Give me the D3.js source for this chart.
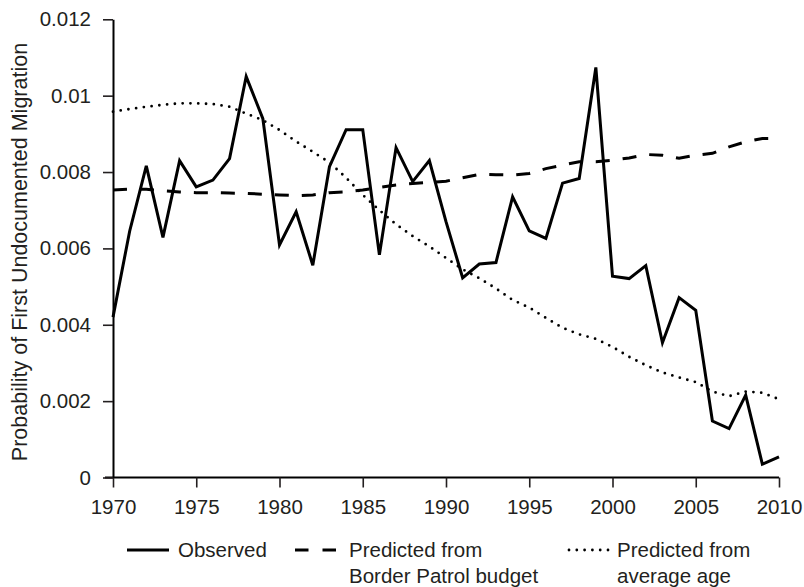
<!DOCTYPE html>
<html>
<head>
<meta charset="utf-8">
<script src="https://cdn.jsdelivr.net/npm/d3@7"></script>
<style>
  body { margin: 0; background: #fff; }
  text { font-family: "Liberation Sans", Arial, Helvetica, sans-serif; fill: #231f20; }
</style>
</head>
<body>
<div id="chart"></div>
<script>
const years = d3.range(1970, 2011);

const observed = [
    0.00420, 0.00645, 0.00816, 0.00629, 0.00830, 0.00761, 0.00779, 0.00835, 0.01050, 0.00940,
    0.00609, 0.00696, 0.00556, 0.00814, 0.00911, 0.00911, 0.00583, 0.00864, 0.00775, 0.00830,
    0.00670, 0.00523, 0.00559, 0.00563, 0.00735, 0.00646, 0.00626, 0.00771, 0.00783, 0.01074,
    0.00527, 0.00521, 0.00555, 0.00353, 0.00471, 0.00438, 0.00148, 0.00128, 0.00216, 0.00035,
    0.00054
];

const predictedBudget = [
    0.00753, 0.00755, 0.00755, 0.00751, 0.00748, 0.00746, 0.00746, 0.00745, 0.00744, 0.00742,
    0.00740, 0.00738, 0.00740, 0.00746, 0.00748, 0.00753, 0.00760, 0.00766, 0.00770, 0.00773,
    0.00776, 0.00785, 0.00794, 0.00793, 0.00792, 0.00796, 0.00809, 0.00818, 0.00827, 0.00827,
    0.00831, 0.00837, 0.00846, 0.00844, 0.00836, 0.00844, 0.00849, 0.00866, 0.00879, 0.00888,
    0.00888
];

const predictedAge = [
    0.00958, 0.00965, 0.00971, 0.00976, 0.00980, 0.00980, 0.00978, 0.00971, 0.00953, 0.00936,
    0.00910, 0.00880, 0.00853, 0.00825, 0.00785, 0.00740, 0.00700, 0.00663, 0.00632, 0.00605,
    0.00575, 0.00545, 0.00522, 0.00495, 0.00465, 0.00445, 0.00418, 0.00392, 0.00375, 0.00363,
    0.00342, 0.00316, 0.00294, 0.00275, 0.00262, 0.00250, 0.00225, 0.00213, 0.00225, 0.00222,
    0.00205
];

const xTicks = [1970, 1975, 1980, 1985, 1990, 1995, 2000, 2005, 2010];
const yTicks = [0, 0.002, 0.004, 0.006, 0.008, 0.01, 0.012];
const yTickLabels = ["0", "0.002", "0.004", "0.006", "0.008", "0.01", "0.012"];

const seriesNames = ["Observed", "Predicted from|Border Patrol budget", "Predicted from|average age"];

const width = 804;
const height = 587;
const margin = { top: 19.3, right: 25, bottom: 109.5, left: 113 };

const svg = d3.select("#chart")
    .append("svg")
    .attr("width", width)
    .attr("height", height);

const x = d3.scaleLinear()
    .domain([1970, 2010])
    .range([margin.left, width - margin.right]);

const y = d3.scaleLinear()
    .domain([0, 0.012])
    .range([height - margin.bottom, margin.top]);

// axes
const xAxis = svg.append("g")
    .attr("transform", `translate(0,${height - margin.bottom})`)
    .call(d3.axisBottom(x).tickValues(xTicks).tickFormat(d3.format("d")).tickSize(10).tickPadding(12).tickSizeOuter(0));

const yAxis = svg.append("g")
    .attr("transform", `translate(${margin.left},0)`)
    .call(d3.axisLeft(y).tickValues(yTicks).tickFormat((d, i) => yTickLabels[i]).tickSize(10).tickPadding(12).tickSizeOuter(0));

[xAxis, yAxis].forEach(ax => {
    ax.select(".domain").attr("stroke", "#000").attr("stroke-width", 2);
    ax.selectAll(".tick line").attr("stroke", "#231f20").attr("stroke-width", 1.6);
    ax.selectAll(".tick text").attr("font-size", 20.5).attr("fill", "#231f20")
        .style("font-family", "'Liberation Sans', Arial, sans-serif");
});
xAxis.select(".domain").attr("d", `M${x(1970) - 8},0H${x(2010)}`);

// y axis title
svg.append("text")
    .attr("transform", `translate(27,252) rotate(-90)`)
    .attr("text-anchor", "middle")
    .attr("font-size", 21.5)
    .text("Probability of First Undocumented Migration");

// lines
const line = values => d3.line()
    .x((d, i) => x(years[i]))
    .y(d => y(d))(values);

svg.append("path")
    .attr("d", line(predictedAge))
    .attr("fill", "none")
    .attr("stroke", "#000")
    .attr("stroke-width", 2.8)
    .attr("stroke-linecap", "round")
    .attr("stroke-dasharray", "0,7.8");

svg.append("path")
    .attr("d", line(predictedBudget))
    .attr("fill", "none")
    .attr("stroke", "#000")
    .attr("stroke-width", 3)
    .attr("stroke-dasharray", "14,13");

svg.append("path")
    .attr("d", line(observed))
    .attr("fill", "none")
    .attr("stroke", "#000")
    .attr("stroke-width", 3)
    .attr("stroke-linejoin", "miter");

// legend
const legendItems = [
    { name: seriesNames[0], x1: 127, x2: 169, tx: 178, dash: null, cap: "butt", sw: 3 },
    { name: seriesNames[1], x1: 295, x2: 337, tx: 349, dash: "13.5,14", cap: "butt", sw: 3 },
    { name: seriesNames[2], x1: 569, x2: 609, tx: 617, dash: "0,7.8", cap: "round", sw: 2.8 }
];

const legend = svg.append("g");
legendItems.forEach(d => {
    legend.append("line")
        .attr("x1", d.x1).attr("x2", d.x2)
        .attr("y1", 550).attr("y2", 550)
        .attr("stroke", "#000")
        .attr("stroke-width", d.sw)
        .attr("stroke-linecap", d.cap)
        .attr("stroke-dasharray", d.dash);

    const t = legend.append("text")
        .attr("x", d.tx)
        .attr("y", 550)
        .attr("font-size", 20.5);
    d.name.split("|").forEach((s, i) => {
        t.append("tspan")
            .attr("x", d.tx)
            .attr("dy", i === 0 ? "0.35em" : 25.5)
            .text(s);
    });
});
</script>
</body>
</html>
